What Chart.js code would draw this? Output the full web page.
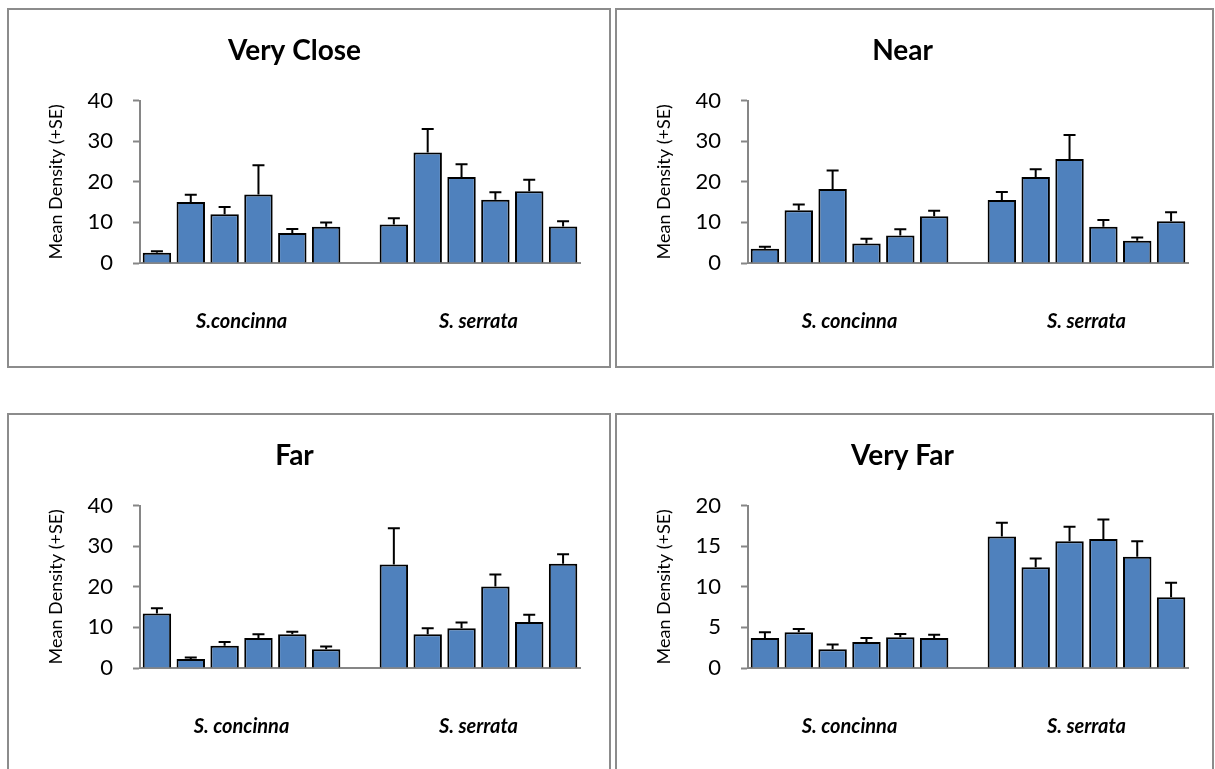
<!DOCTYPE html>
<html>
<head>
<meta charset="utf-8">
<title>Mean density by distance</title>
<script src="https://cdn.jsdelivr.net/npm/chart.js@4/dist/chart.umd.min.js"></script>
<style>
  html, body { margin: 0; padding: 0; background: #fff; overflow: hidden; }
  body { width: 1215px; height: 769px; position: relative; }
  .panel { position: absolute; box-sizing: border-box; border: 2px solid #8c8c8c; background: #fff; }
  .panel canvas { position: absolute; left: 0; top: 0; }
  #p1 { left: 7px;   top: 8px;   width: 604px; height: 360px; }
  #p2 { left: 615px; top: 8px;   width: 599px; height: 360px; }
  #p3 { left: 7px;   top: 413px; width: 604px; height: 362px; }
  #p4 { left: 615px; top: 413px; width: 599px; height: 362px; }
</style>
</head>
<body>
<div class="panel" id="p1"><canvas id="c1" width="600" height="356"></canvas></div>
<div class="panel" id="p2"><canvas id="c2" width="595" height="356"></canvas></div>
<div class="panel" id="p3"><canvas id="c3" width="600" height="356"></canvas></div>
<div class="panel" id="p4"><canvas id="c4" width="595" height="356"></canvas></div>

<script>
// ---- Data: mean density and standard error, six sites per species ----
const sites = ['1', '2', '3', '4', '5', '6'];

const veryCloseConcinna   = [2.5, 15.0, 12.0, 16.9, 7.4, 8.9];
const veryCloseConcinnaSE = [0.4, 1.8, 1.8, 7.2, 1.0, 1.1];
const veryCloseSerrata    = [9.5, 27.2, 21.2, 15.6, 17.7, 9.0];
const veryCloseSerrataSE  = [1.5, 5.8, 3.1, 1.8, 2.8, 1.3];

const nearConcinna   = [3.5, 13.0, 18.2, 4.8, 6.8, 11.5];
const nearConcinnaSE = [0.5, 1.4, 4.6, 1.2, 1.5, 1.4];
const nearSerrata    = [15.5, 21.2, 25.6, 8.9, 5.5, 10.3];
const nearSerrataSE  = [2.0, 1.9, 5.9, 1.7, 0.8, 2.2];

const farConcinna   = [13.4, 2.2, 5.5, 7.4, 8.3, 4.6];
const farConcinnaSE = [1.3, 0.4, 0.9, 0.9, 0.6, 0.7];
const farSerrata    = [25.5, 8.3, 9.8, 20.1, 11.3, 25.7];
const farSerrataSE  = [8.9, 1.5, 1.4, 2.9, 1.8, 2.3];

const veryFarConcinna   = [3.7, 4.4, 2.3, 3.2, 3.8, 3.7];
const veryFarConcinnaSE = [0.7, 0.4, 0.6, 0.5, 0.4, 0.4];
const veryFarSerrata    = [16.2, 12.4, 15.6, 15.9, 13.7, 8.7];
const veryFarSerrataSE  = [1.7, 1.1, 1.8, 2.4, 1.9, 1.8];

const yTicksTo40 = { max: 40, step: 10 };
const yTicksTo20 = { max: 20, step: 5 };

// ---- Styling ----
const FONT = 'Lato, "Open Sans", "DejaVu Sans", sans-serif';
const BAR_FILL = '#4F81BD';
const AXIS_GREY = '#868686';

// Category axis: six sites, an empty spacer, six sites
function buildLabels(a, b) {
  return sites.map(s => a + ' ' + s).concat([''], sites.map(s => b + ' ' + s));
}
function joinGroups(a, b) { return a.concat([null], b); }

// Error bars (+SE) drawn above each bar through the y scale
const errorBarPlugin = {
  id: 'errorBars',
  afterDatasetsDraw(chart) {
    const se = chart.options.plugins.errorBars.values;
    const ds = chart.data.datasets[0].data;
    const meta = chart.getDatasetMeta(0);
    const y = chart.scales.y;
    const ctx = chart.ctx;
    ctx.save();
    ctx.strokeStyle = '#000';
    ctx.lineWidth = 2;
    meta.data.forEach((bar, i) => {
      if (ds[i] == null || se[i] == null) return;
      const x = bar.x;
      const yBar = y.getPixelForValue(ds[i]);
      const yTop = y.getPixelForValue(ds[i] + se[i]);
      ctx.beginPath();
      ctx.moveTo(x, yBar);
      ctx.lineTo(x, yTop);
      ctx.moveTo(x - 6, yTop);
      ctx.lineTo(x + 6, yTop);
      ctx.stroke();
    });
    ctx.restore();
  }
};

// Species names centred under each group of bars
const groupLabelPlugin = {
  id: 'groupLabels',
  afterDraw(chart) {
    const opts = chart.options.plugins.groupLabels;
    const x = chart.scales.x;
    const ctx = chart.ctx;
    const yPos = chart.chartArea.bottom + opts.offset;
    ctx.save();
    ctx.font = 'italic bold 20px ' + FONT;
    ctx.fillStyle = '#000';
    ctx.textAlign = 'center';
    ctx.textBaseline = 'middle';
    const left = (x.getPixelForValue(0) + x.getPixelForValue(5)) / 2;
    const right = (x.getPixelForValue(7) + x.getPixelForValue(12)) / 2;
    ctx.fillText(opts.names[0], left, yPos);
    ctx.fillText(opts.names[1], right, yPos);
    ctx.restore();
  }
};

function makeChart(canvasId, title, names, a, aSE, b, bSE, yRange) {
  const canvas = document.getElementById(canvasId);
  const W = canvas.width;
  return new Chart(canvas, {
    type: 'bar',
    data: {
      labels: buildLabels(names[0], names[1]),
      datasets: [{
        data: joinGroups(a, b),
        backgroundColor: BAR_FILL,
        borderColor: '#000',
        borderWidth: 2,
        barPercentage: 0.84,
        categoryPercentage: 1.0
      }]
    },
    options: {
      responsive: false,
      animation: false,
      layout: { padding: { left: 0, top: 0, right: W - 571, bottom: 103 } },
      plugins: {
        legend: { display: false },
        tooltip: { enabled: false },
        title: {
          display: true,
          text: title,
          color: '#000',
          font: { family: FONT, size: 28, weight: 'bold', lineHeight: 1.2 },
          padding: { top: 24, bottom: 33 }
        },
        errorBars: { values: joinGroups(aSE, bSE) },
        groupLabels: { names: names, offset: 59 }
      },
      scales: {
        x: {
          type: 'category',
          offset: true,
          grid: { display: false },
          ticks: { display: false },
          border: { display: true, color: AXIS_GREY, width: 2 },
          afterFit(scale) { scale.height = 0; }
        },
        y: {
          min: 0,
          max: yRange.max,
          ticks: {
            stepSize: yRange.step,
            color: '#000',
            font: { family: FONT, size: 22 },
            padding: 20
          },
          grid: {
            display: true,
            drawOnChartArea: false,
            drawTicks: true,
            tickLength: 7,
            tickColor: AXIS_GREY,
            tickWidth: 2
          },
          border: { display: true, color: AXIS_GREY, width: 2 },
          title: {
            display: true,
            text: 'Mean Density (+SE)',
            color: '#000',
            font: { family: FONT, size: 18 },
            padding: { top: 36, bottom: 0 }
          },
          afterFit(scale) { scale.width = 131; }
        }
      }
    },
    plugins: [errorBarPlugin, groupLabelPlugin]
  });
}

makeChart('c1', 'Very Close', ['S.concinna', 'S. serrata'],
  veryCloseConcinna, veryCloseConcinnaSE, veryCloseSerrata, veryCloseSerrataSE, yTicksTo40);
makeChart('c2', 'Near', ['S. concinna', 'S. serrata'],
  nearConcinna, nearConcinnaSE, nearSerrata, nearSerrataSE, yTicksTo40);
makeChart('c3', 'Far', ['S. concinna', 'S. serrata'],
  farConcinna, farConcinnaSE, farSerrata, farSerrataSE, yTicksTo40);
makeChart('c4', 'Very Far', ['S. concinna', 'S. serrata'],
  veryFarConcinna, veryFarConcinnaSE, veryFarSerrata, veryFarSerrataSE, yTicksTo20);
</script>
</body>
</html>
